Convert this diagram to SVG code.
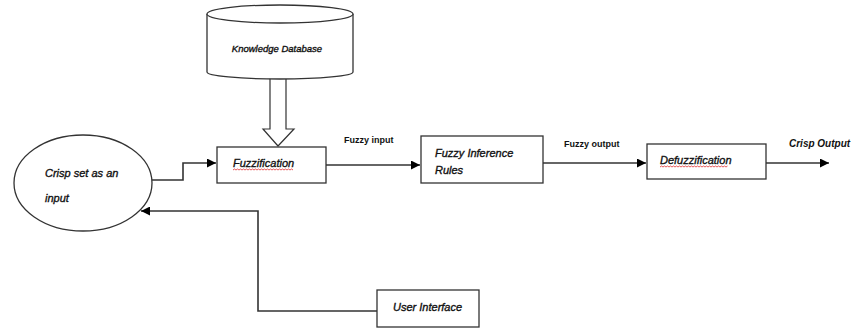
<svg xmlns="http://www.w3.org/2000/svg" width="854" height="330" viewBox="0 0 854 330">
<defs>
<marker id="ah" viewBox="0 0 10 10" refX="10" refY="5" markerWidth="9" markerHeight="9" markerUnits="userSpaceOnUse" orient="auto">
<path d="M0,0 L10,5 L0,10 Z" fill="#000"/>
</marker>
</defs>
<style>
.box{fill:#fff;stroke:#333;stroke-width:1.3}
.ln{fill:none;stroke:#333;stroke-width:1.6}
.t{font-family:"Liberation Sans",Arial,sans-serif;font-style:italic;font-size:11px;fill:#111;stroke:#111;stroke-width:0.35}
.lb{font-family:"Liberation Sans",Arial,sans-serif;font-weight:bold;font-size:9px;fill:#111}
.sq{fill:none;stroke:#e03030;stroke-width:0.8}
</style>
<rect width="854" height="330" fill="#fff"/>
<g id="connectors">
<path class="ln" d="M152,180 H183 V163 H216" marker-end="url(#ah)"/>
<path class="ln" d="M326,165 H420" marker-end="url(#ah)"/>
<path class="ln" d="M543,163 H646" marker-end="url(#ah)"/>
<path class="ln" d="M766,163 H829" marker-end="url(#ah)"/>
<path class="ln" d="M377,311 H258 V211 H141" marker-end="url(#ah)"/>
<path d="M270,78 V129 H263 L278,146 L294,129 H286 V78" fill="#fff" stroke="#333" stroke-width="1.2"/>
<text class="lb" x="344" y="143">Fuzzy input</text>
<text class="lb" x="564" y="147">Fuzzy output</text>
<text class="lb" x="789" y="147" style="font-style:italic;font-size:10px">Crisp Output</text>
</g>
<g id="knowledge-db">
<path class="box" d="M207,14 V72 A73,7 0 0 0 353,72 V14"/>
<ellipse class="box" cx="280" cy="14" rx="73" ry="9"/>
<text class="t" x="277" y="52" text-anchor="middle" style="font-size:9.5px">Knowledge Database</text>
</g>
<g id="crisp-input">
<ellipse class="box" cx="83" cy="183" rx="69" ry="48"/>
<text class="t" x="45" y="177">Crisp set as an</text>
<text class="t" x="45" y="202">input</text>
</g>
<g id="fuzzification">
<rect class="box" x="217" y="147" width="109" height="36"/>
<text class="t" x="233" y="167">Fuzzification</text>
<path class="sq" d="M233,170 l1.5,-1 l1.5,1 l1.5,-1 l1.5,1 l1.5,-1 l1.5,1 l1.5,-1 l1.5,1 l1.5,-1 l1.5,1 l1.5,-1 l1.5,1 l1.5,-1 l1.5,1 l1.5,-1 l1.5,1 l1.5,-1 l1.5,1 l1.5,-1 l1.5,1 l1.5,-1 l1.5,1 l1.5,-1 l1.5,1 l1.5,-1 l1.5,1 l1.5,-1 l1.5,1 l1.5,-1 l1.5,1 l1.5,-1 l1.5,1 l1.5,-1 l1.5,1 l1.5,-1 l1.5,1 l1.5,-1 l1.5,1 l1.5,-1 l1.5,1"/>
</g>
<g id="fuzzy-inference">
<rect class="box" x="421" y="136" width="122" height="47"/>
<text class="t" x="435" y="157">Fuzzy Inference</text>
<text class="t" x="435" y="174">Rules</text>
</g>
<g id="defuzzification">
<rect class="box" x="647" y="144" width="119" height="35"/>
<text class="t" x="660" y="164">Defuzzification</text>
<path class="sq" d="M660,167 l1.5,-1 l1.5,1 l1.5,-1 l1.5,1 l1.5,-1 l1.5,1 l1.5,-1 l1.5,1 l1.5,-1 l1.5,1 l1.5,-1 l1.5,1 l1.5,-1 l1.5,1 l1.5,-1 l1.5,1 l1.5,-1 l1.5,1 l1.5,-1 l1.5,1 l1.5,-1 l1.5,1 l1.5,-1 l1.5,1 l1.5,-1 l1.5,1 l1.5,-1 l1.5,1 l1.5,-1 l1.5,1 l1.5,-1 l1.5,1 l1.5,-1 l1.5,1 l1.5,-1 l1.5,1 l1.5,-1 l1.5,1 l1.5,-1 l1.5,1 l1.5,-1 l1.5,1 l1.5,-1 l1.5,1 l1.5,-1"/>
</g>
<g id="user-interface">
<rect class="box" x="377" y="290" width="102" height="37"/>
<text class="t" x="393" y="311">User Interface</text>
</g>
</svg>
